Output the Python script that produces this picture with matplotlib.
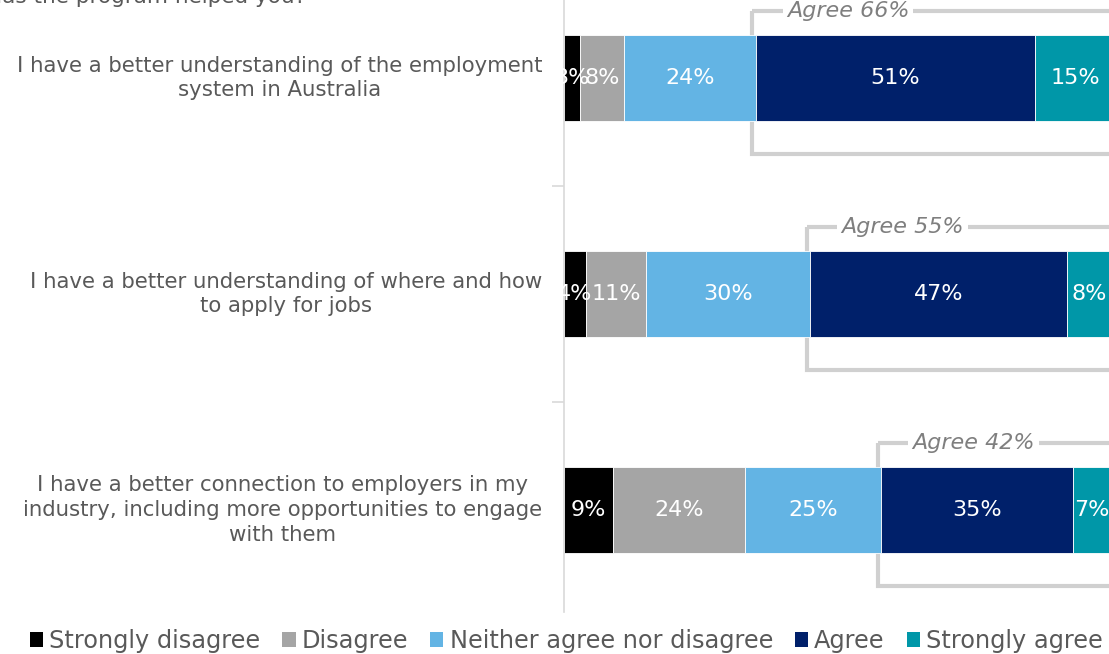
import numpy as np
import matplotlib.pyplot as plt
from matplotlib.patches import Rectangle, Patch

plt.rcParams['font.family'] = ['DejaVu Sans']

# data
categories = [
    "I have a better understanding of the employment\nsystem in Australia",
    "I have a better understanding of where and how\nto apply for jobs",
    "I have a better connection to employers in my\nindustry, including more opportunities to engage\nwith them",
]
series = ["Strongly disagree", "Disagree", "Neither agree nor disagree", "Agree", "Strongly agree"]
strongly_disagree = [3, 4, 9]
disagree = [8, 11, 24]
neither = [24, 30, 25]
agree = [51, 47, 35]
strongly_agree = [15, 8, 7]
agree_total = [66, 55, 42]
colors = ["#000000", "#a5a5a5", "#63b4e4", "#00206a", "#0097a8"]

values = [strongly_disagree, disagree, neither, agree, strongly_agree]
txt_grey = "#595959"

fig = plt.figure(figsize=(11.09, 6.54), dpi=100)
ax = fig.add_axes([564 / 1109, 36 / 654, 1 - 564 / 1109, (618 + 30) / 654])

y = np.arange(len(categories))
left = np.zeros(len(categories))
for vals, c in zip(values, colors):
    vals = np.array(vals, dtype=float)
    ax.barh(y, vals, left=left, height=0.4, color=c, edgecolor="white", linewidth=0.6)
    for yi, l, v in zip(y, left, vals):
        ax.text(l + v / 2, yi, f"{int(v)}%", color="white", ha="center", va="center", fontsize=16)
    left += vals

# agree brackets
for yi, s, tot in zip(y, left - np.array(agree) - np.array(strongly_agree), agree_total):
    x0 = s - 0.6
    rect = Rectangle((x0, yi - 0.31), 100 - x0 + 5, 0.66, fill=False, edgecolor="#d0d0d0",
                     linewidth=3, clip_on=False, zorder=0)
    ax.add_patch(rect)
    ax.text(x0 + 17.5, yi - 0.31, f"Agree {tot}%", ha="center", va="center", fontsize=16,
            style="italic", color="#7f7f7f",
            bbox=dict(facecolor="white", edgecolor="none", pad=3))

ax.set_xlim(0, 99.6)
ax.set_ylim(2.5, -0.5)
ax.set_xticks([])
ax.set_yticks([0.5, 1.5])
ax.set_yticklabels([])
ax.tick_params(axis="y", length=9, color="#d9d9d9", width=1.2)
for sp in ["top", "right", "bottom"]:
    ax.spines[sp].set_visible(False)
ax.spines["left"].set_color("#d9d9d9")
ax.spines["left"].set_linewidth(1.2)
ax.spines["left"].set_bounds(2.47, -0.5)

for yi, cat in zip(y, categories):
    ax.text(-4, yi, cat, ha="right", va="center", multialignment="center",
            fontsize=15.3, color=txt_grey, linespacing=1.3, transform=ax.transData)

fig.text(-14 / 1109, 1 - 3 / 654, "Has the program helped you?", fontsize=15.5,
         color=txt_grey, va="baseline", ha="left")

handles = [Patch(facecolor=c, edgecolor="none") for c in colors]
fig.legend(handles, series, loc="center left", bbox_to_anchor=(30 / 1109, 1 - 641 / 654), ncol=5,
           frameon=False, fontsize=17.3, handlelength=0.55, handleheight=0.55,
           handletextpad=0.25, columnspacing=0.92, labelcolor=txt_grey, borderpad=0,
           borderaxespad=0)

fig.savefig("out.png", dpi=100)
